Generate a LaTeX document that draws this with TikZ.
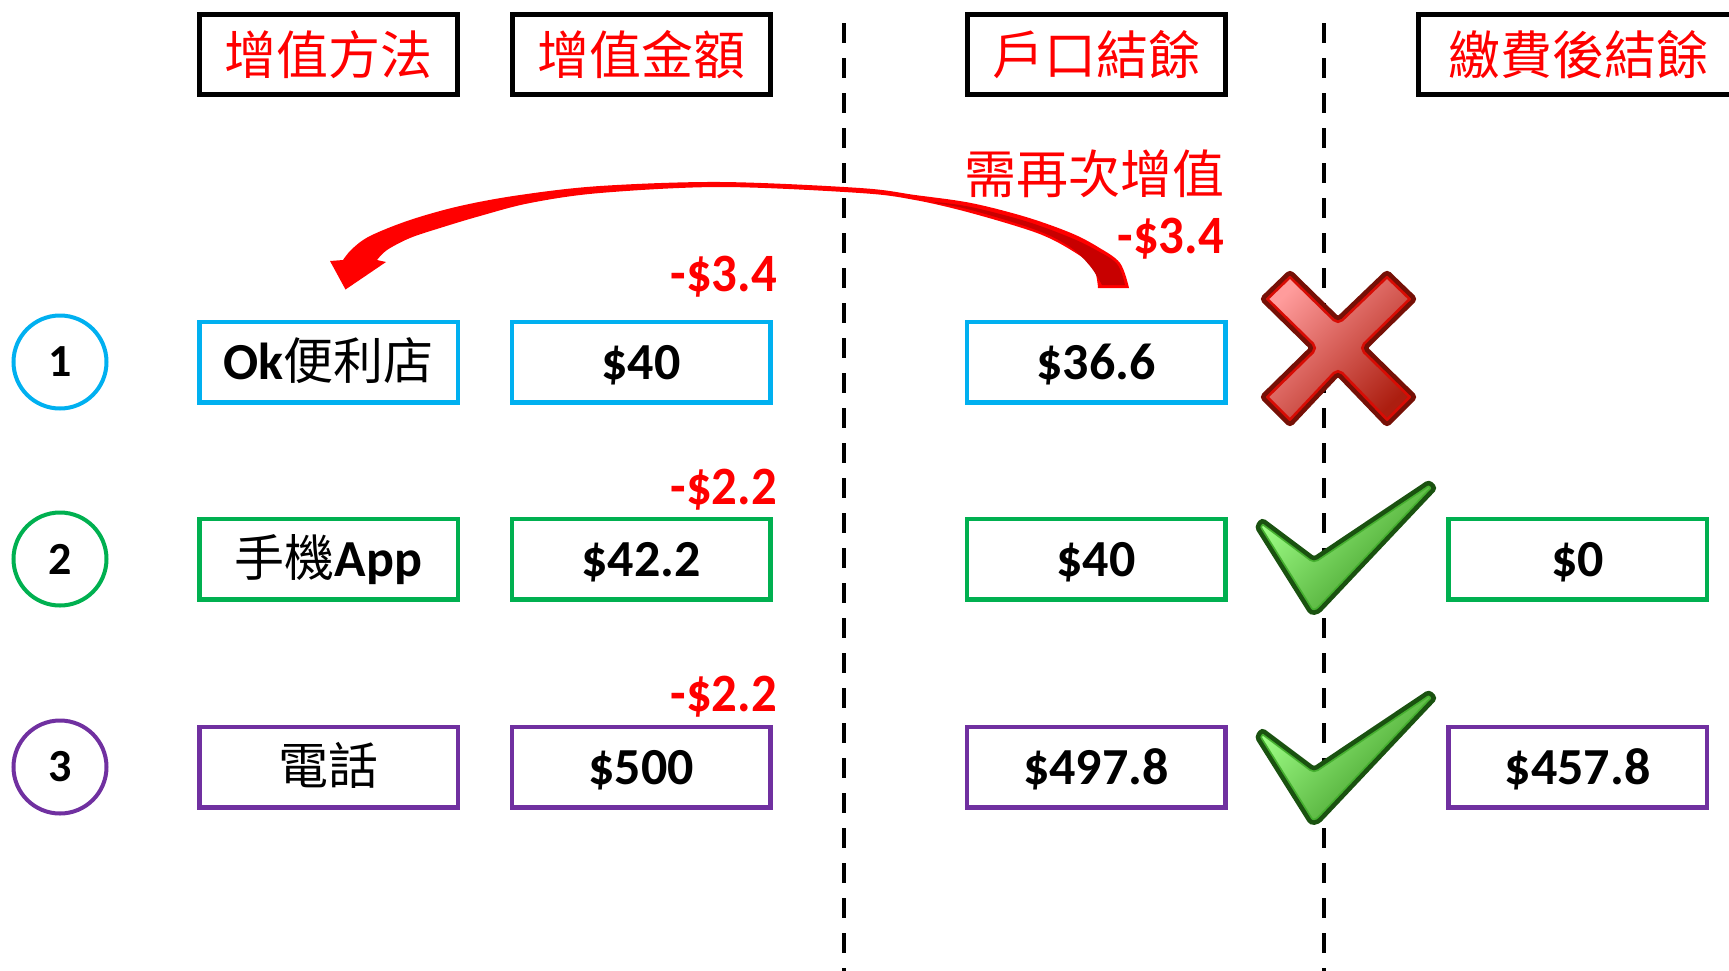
\documentclass[tikz,border=0pt]{standalone}
\usepackage{fontspec}
\setmainfont{Carlito}
\newfontfamily\cjkf{Noto Sans CJK TC}
\definecolor{cyanb}{HTML}{00B0F0}
\definecolor{greenb}{HTML}{00B050}
\definecolor{purpleb}{HTML}{7030A0}
\definecolor{redt}{HTML}{FF0000}
\definecolor{arrdark}{HTML}{C80000}
\definecolor{xlight}{HTML}{FF9C9C}
\definecolor{xfill}{HTML}{AC1E10}
\definecolor{xline}{HTML}{761006}
\definecolor{xring}{HTML}{D80C04}
\definecolor{clight}{HTML}{A0FF88}
\definecolor{cfill}{HTML}{3A9420}
\definecolor{cline}{HTML}{1A5210}
\definecolor{cring}{HTML}{46B030}
\newcommand{\cjtext}[1]{{\cjkf\mdseries\fontsize{50}{60}\selectfont #1}}
\begin{document}
\begin{tikzpicture}[x=1pt,y=-1pt,
  hdrbox/.style={draw=black, line width=5pt, minimum width=258pt, minimum height=80pt, inner sep=0pt, text=redt, font=\cjkf\fontsize{52}{60}\selectfont},
  rowbox/.style={draw=#1, line width=4.5pt, minimum width=258.5pt, minimum height=80.5pt, inner sep=0pt, text height=35pt, text depth=0pt, font=\fontsize{52}{60}\selectfont\bfseries},
  numcircle/.style={circle, draw=#1, line width=4pt, minimum size=93pt, inner sep=0pt, font=\fontsize{46}{50}\selectfont\bfseries},
  redlbl/.style={text=redt, inner sep=0pt, font=\fontsize{54}{60}\selectfont\bfseries},
  sepline/.style={line width=4.7pt, dash pattern=on 20pt off 15pt},
  markline/.style={draw=#1, line width=4.5pt, rounded corners=3pt}]
\useasboundingbox (0,0) rectangle (1729,970);

% separators
\draw[sepline] (844,23) -- (844,975);
\draw[sepline] (1324,23) -- (1324,975);

% headers
\node[hdrbox] (h1) at (328.5,54.5) {增值方法};
\node[hdrbox] (h2) at (641,54.5) {增值金額};
\node[hdrbox] (h3) at (1096,54.5) {戶口結餘};
\node[hdrbox, minimum width=320pt] (h4) at (1578.5,54.5) {繳費後結餘};

% row 1
\node[numcircle=cyanb] (c1) at (60,362) {1};
\node[rowbox=cyanb] (m1) at (328.5,362) {Ok\cjtext{便利店}};
\node[rowbox=cyanb] (a1) at (641,362) {\$40};
\node[rowbox=cyanb] (b1) at (1096,362) {\$36.6};

% row 2
\node[numcircle=greenb] (c2) at (60,559) {2};
\node[rowbox=greenb] (m2) at (328.5,559) {\cjtext{手機}App};
\node[rowbox=greenb] (a2) at (641,559) {\$42.2};
\node[rowbox=greenb] (b2) at (1096,559) {\$40};
\node[rowbox=greenb] (f2) at (1577.5,559) {\$0};

% row 3
\node[numcircle=purpleb] (c3) at (60,767) {3};
\node[rowbox=purpleb] (m3) at (328.5,767) {\cjtext{電話}};
\node[rowbox=purpleb] (a3) at (641,767) {\$500};
\node[rowbox=purpleb] (b3) at (1096,767) {\$497.8};
\node[rowbox=purpleb] (f3) at (1577.5,767) {\$457.8};

% red labels
\node[redlbl, anchor=base east, xscale=0.94] (d1) at (777,291) {-\$3.4};
\node[redlbl, anchor=base east, xscale=0.94] (d2) at (777,504) {-\$2.2};
\node[redlbl, anchor=base east, xscale=0.94] (d3) at (777,711) {-\$2.2};
\node[anchor=east, inner sep=0pt, text=redt, font=\cjkf\fontsize{52}{60}\selectfont] (again) at (1225,174) {需再次增值};
\node[redlbl, anchor=base east, xscale=0.94] (d4) at (1224,253) {-\$3.4};

% curved arrow from the $36.6 column back to the first method
\fill[redt] plot[smooth, tension=0.55] coordinates {(1129,288) (1120,263) (1098,247) (1071,233) (1026,217) (971,203) (915,195) (860,188) (721,182) (600,186) (520,195) (460,206) (410,220) (370,236) (352,249) (343,260)}
  -- (330,261) -- (345.5,289.5) -- (386,262) -- (377,260)
  -- plot[smooth, tension=0.55] coordinates {(377,260) (387,250) (410,238) (440,228) (480,216) (530,203) (600,193) (721,187) (860,193) (915,200) (971,213) (1037,233) (1071,250) (1093,267) (1098,288)} -- cycle;
\fill[arrdark] plot[smooth, tension=0.6] coordinates {(1125,285) (1117,264) (1096,250) (1069,237) (1025,221) (971,207) (935,202)}
  -- plot[smooth, tension=0.6] coordinates {(935,203) (971,210) (1036,230) (1070,247) (1090,266) (1102,285)} -- cycle;

% cross
\def\xpath{(1290,272) -- (1338,319) -- (1387,272) -- (1415,299) -- (1365,348) -- (1415,397) -- (1387,425) -- (1338,374) -- (1290,425) -- (1262,397) -- (1312,348) -- (1262,299) -- cycle}
\begin{scope}
  \clip[rounded corners=3pt] \xpath;
  \shade[top color=xlight, bottom color=xfill, shading angle=45] \xpath;
  \draw[xring, line width=10pt, rounded corners=3pt] \xpath;
\end{scope}
\draw[markline=xline] \xpath;

% ticks
\def\cpath{(1262,520) -- (1314,559) -- (1429,482) -- (1435,488) -- (1318,612) -- (1311,613) -- (1257,527) -- cycle}
\foreach \dy in {0, 210} {
  \begin{scope}[yshift=-\dy pt]
    \begin{scope}
      \clip[rounded corners=3pt] \cpath;
      \shade[top color=clight, bottom color=cfill, shading angle=45] \cpath;
      \draw[cring, line width=8pt, rounded corners=3pt] \cpath;
    \end{scope}
    \draw[markline=cline] \cpath;
  \end{scope}
}
\end{tikzpicture}
\end{document}
